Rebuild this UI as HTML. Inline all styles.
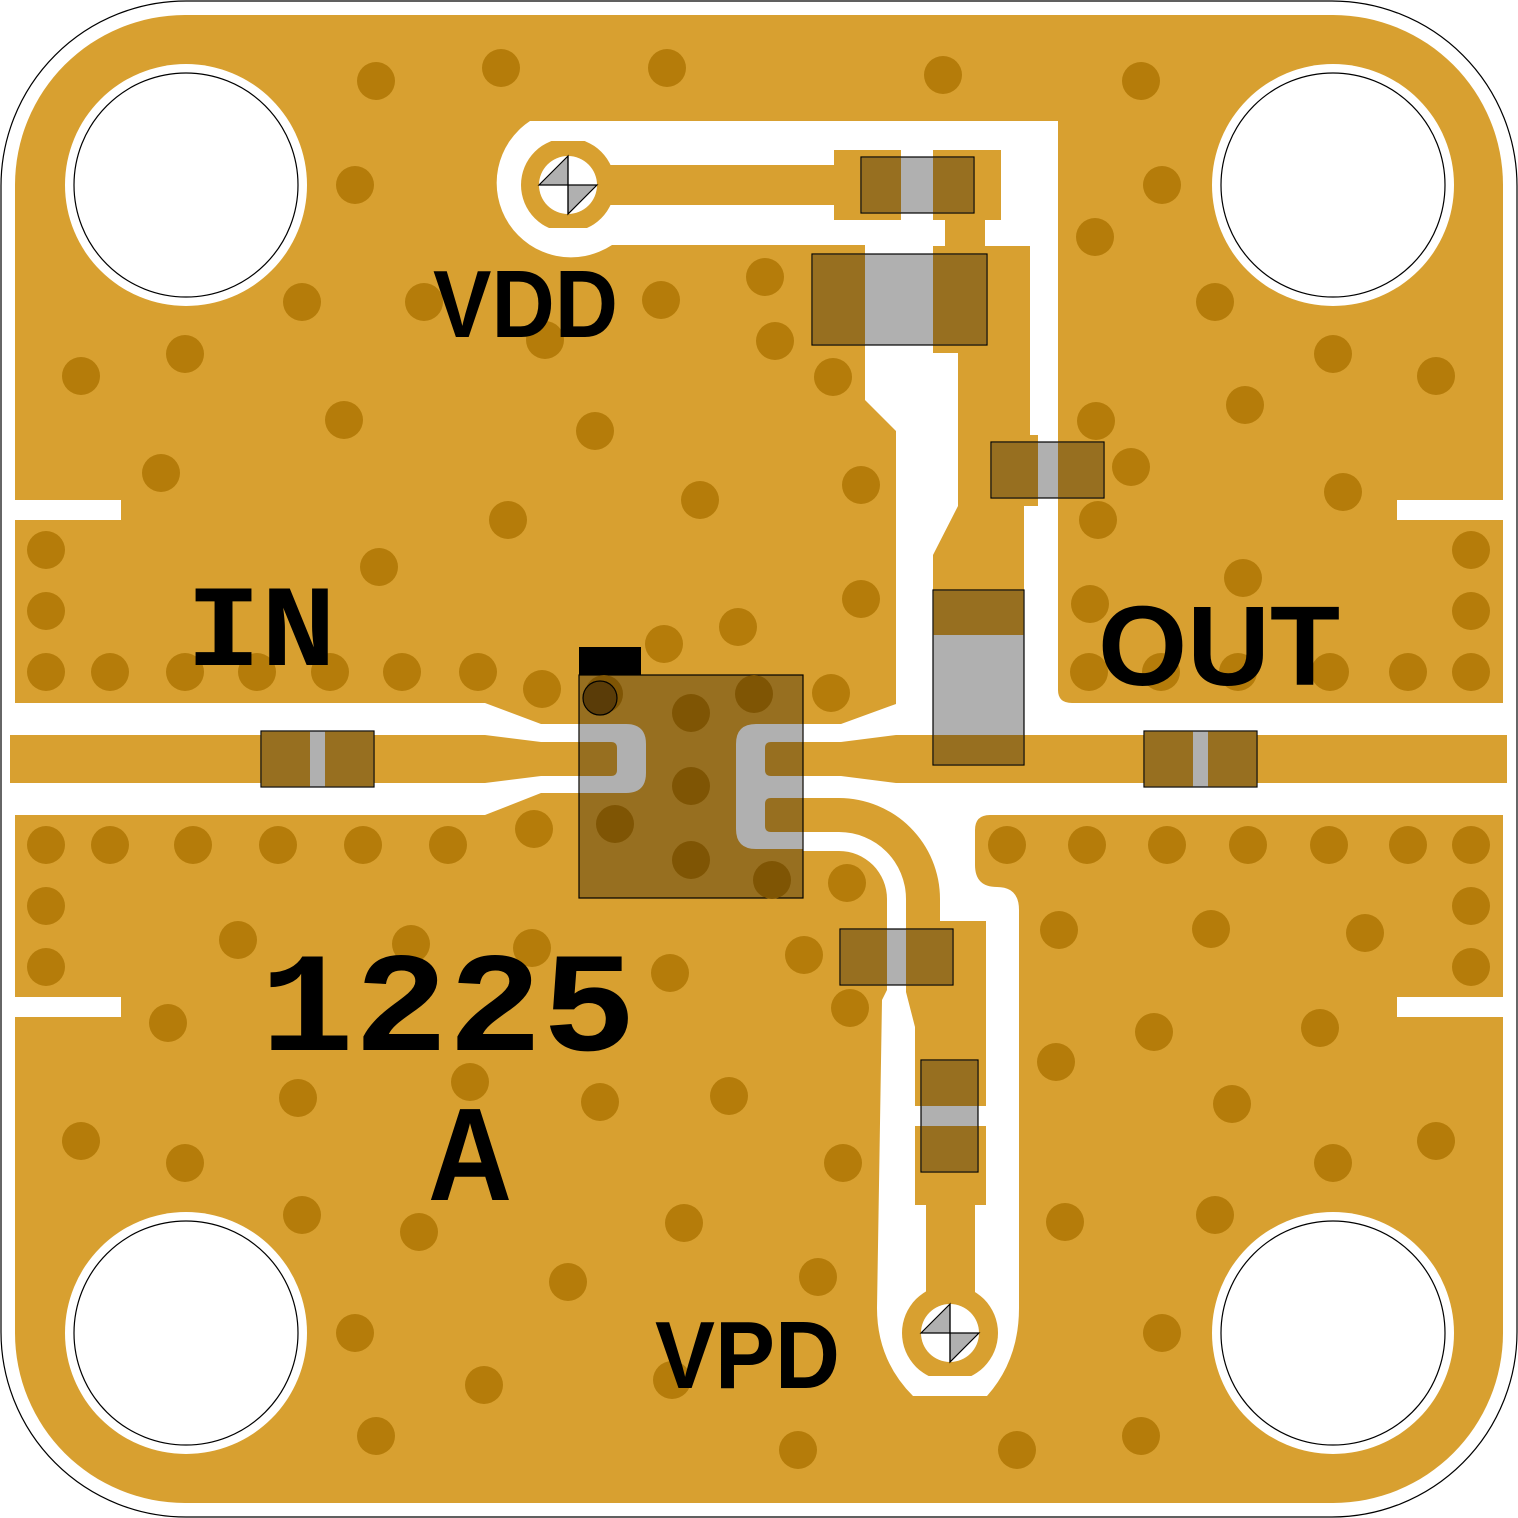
<!DOCTYPE html>
<html><head><meta charset="utf-8"><style>html,body{margin:0;padding:0;background:#fff}svg{display:block}</style></head>
<body>
<svg width="1518" height="1518" viewBox="0 0 1518 1518" xmlns="http://www.w3.org/2000/svg">
<defs>
<clipPath id="cv1"><rect x="500" y="141" width="140" height="87"/></clipPath>
<clipPath id="cv2"><rect x="890" y="1290" width="120" height="86"/></clipPath>
</defs>
<rect x="1" y="1" width="1516" height="1516" rx="185" fill="#fff" stroke="#000" stroke-width="1.2"/>
<rect x="15" y="15" width="1488" height="1488" rx="170" fill="#D8A030"/>

<!-- white gaps -->
<g fill="#fff">
<rect x="15" y="500" width="106" height="20"/>
<rect x="15" y="997" width="106" height="20"/>
<rect x="1397" y="500" width="106" height="20"/>
<rect x="1397" y="997" width="106" height="20"/>
<polygon points="15,703 485,703 541,724 590,724 590,793 541,793 485,815 15,815"/>
<path d="M530,121 H1058 V690 Q1058,703 1072,703 H1503 V815 H990 Q975,815 975,830 V865 Q975,887 997,887 Q1019,887 1019,910 V1308 Q1019,1360 987,1396 H913 Q877,1360 877,1308 L882,1000 L887,990 V899 A48,48 0 0 0 839,851 H795 V724 H841 L896,704 V431 L865,400 V245 H612 A74,74 0 1 1 530,121 Z"/>
</g>

<!-- gold traces -->
<g fill="#D8A030">
<polygon points="10,735 485,735 541,742 590,742 590,776 541,776 485,783 10,783"/>
<polygon points="795,742 841,742 896,735 1507,735 1507,783 896,783 841,776 795,776"/>
<rect x="600" y="165" width="236" height="40"/>
<rect x="834" y="150" width="67" height="70"/>
<rect x="933" y="150" width="68" height="70"/>
<rect x="945" y="219" width="40" height="28"/>
<polygon points="933,246 1030,246 1030,435 1038,435 1038,506 1024,506 1024,740 933,740 933,555 958,506 958,353 933,353"/>
<path d="M795,798 H839 A101,101 0 0 1 940,899 V921 H986 V1205 H975 V1300 H926 V1205 H915 V1027 L906,992 V899 A67,67 0 0 0 839,832 H795 Z"/>
<circle cx="568" cy="185" r="47" clip-path="url(#cv1)"/>
<circle cx="950" cy="1333" r="48" clip-path="url(#cv2)"/>
</g>
<rect x="915" y="1106" width="71" height="20" fill="#fff"/>

<!-- via holes -->
<g stroke="#000" stroke-width="1.2">
<circle cx="568" cy="185" r="29" fill="#fff" stroke="none"/>
<polygon points="568,156 539,185 568,185" fill="#B0B0B0"/>
<polygon points="568,185 597,185 568,214" fill="#B0B0B0"/>
<line x1="568" y1="156" x2="568" y2="214"/>
<circle cx="950" cy="1333" r="29" fill="#fff" stroke="none"/>
<polygon points="950,1304 921,1333 950,1333" fill="#B0B0B0"/>
<polygon points="950,1333 979,1333 950,1362" fill="#B0B0B0"/>
<line x1="950" y1="1304" x2="950" y2="1362"/>
</g>

<!-- mounting holes -->
<g fill="#fff">
<circle cx="186" cy="185" r="121"/><circle cx="1333" cy="185" r="121"/>
<circle cx="186" cy="1333" r="121"/><circle cx="1333" cy="1333" r="121"/>
</g>
<g fill="#fff" stroke="#000" stroke-width="1.2">
<circle cx="186" cy="185" r="112"/><circle cx="1333" cy="185" r="112"/>
<circle cx="186" cy="1333" r="112"/><circle cx="1333" cy="1333" r="112"/>
</g>

<!-- vias -->
<g fill="#B57C0A">
<circle cx="376" cy="81" r="19"/><circle cx="501" cy="68" r="19"/><circle cx="667" cy="68" r="19"/><circle cx="943" cy="75" r="19"/><circle cx="1141" cy="81" r="19"/>
<circle cx="355" cy="185" r="19"/><circle cx="1162" cy="185" r="19"/><circle cx="1095" cy="237" r="19"/>
<circle cx="302" cy="302" r="19"/><circle cx="424" cy="302" r="19"/><circle cx="661" cy="300" r="19"/><circle cx="765" cy="277" r="19"/><circle cx="1215" cy="302" r="19"/>
<circle cx="545" cy="340" r="19"/><circle cx="775" cy="341" r="19"/><circle cx="185" cy="354" r="19"/><circle cx="1333" cy="354" r="19"/>
<circle cx="81" cy="376" r="19"/><circle cx="1436" cy="376" r="19"/><circle cx="833" cy="377" r="19"/>
<circle cx="344" cy="420" r="19"/><circle cx="595" cy="431" r="19"/><circle cx="1096" cy="421" r="19"/><circle cx="1245" cy="405" r="19"/>
<circle cx="161" cy="473" r="19"/><circle cx="861" cy="485" r="19"/><circle cx="700" cy="500" r="19"/><circle cx="1131" cy="467" r="19"/>
<circle cx="508" cy="520" r="19"/><circle cx="1343" cy="492" r="19"/><circle cx="1098" cy="520" r="19"/>
<circle cx="46" cy="550" r="19"/><circle cx="1471" cy="550" r="19"/><circle cx="379" cy="567" r="19"/><circle cx="861" cy="599" r="19"/>
<circle cx="1243" cy="578" r="19"/><circle cx="1090" cy="604" r="19"/><circle cx="46" cy="611" r="19"/><circle cx="1471" cy="611" r="19"/>
<circle cx="738" cy="627" r="19"/><circle cx="664" cy="644" r="19"/>
<circle cx="46" cy="672" r="19"/><circle cx="110" cy="672" r="19"/><circle cx="185" cy="672" r="19"/><circle cx="257" cy="672" r="19"/><circle cx="330" cy="672" r="19"/><circle cx="402" cy="672" r="19"/><circle cx="478" cy="672" r="19"/><circle cx="542" cy="689" r="19"/><circle cx="831" cy="693" r="19"/>
<circle cx="1089" cy="672" r="19"/><circle cx="1161" cy="672" r="19"/><circle cx="1238" cy="672" r="19"/><circle cx="1330" cy="672" r="19"/><circle cx="1408" cy="672" r="19"/><circle cx="1471" cy="672" r="19"/>
<circle cx="46" cy="845" r="19"/><circle cx="110" cy="845" r="19"/><circle cx="193" cy="845" r="19"/><circle cx="278" cy="845" r="19"/><circle cx="363" cy="845" r="19"/><circle cx="448" cy="845" r="19"/><circle cx="534" cy="829" r="19"/>
<circle cx="1007" cy="845" r="19"/><circle cx="1087" cy="845" r="19"/><circle cx="1167" cy="845" r="19"/><circle cx="1248" cy="845" r="19"/><circle cx="1329" cy="845" r="19"/><circle cx="1408" cy="845" r="19"/><circle cx="1471" cy="845" r="19"/>
<circle cx="46" cy="906" r="19"/><circle cx="1471" cy="906" r="19"/><circle cx="847" cy="883" r="19"/><circle cx="1059" cy="930" r="19"/><circle cx="1211" cy="929" r="19"/><circle cx="1365" cy="933" r="19"/>
<circle cx="238" cy="940" r="19"/><circle cx="411" cy="944" r="19"/><circle cx="532" cy="948" r="19"/><circle cx="804" cy="955" r="19"/><circle cx="670" cy="973" r="19"/>
<circle cx="46" cy="967" r="19"/><circle cx="1471" cy="967" r="19"/><circle cx="850" cy="1008" r="19"/><circle cx="168" cy="1023" r="19"/><circle cx="1154" cy="1032" r="19"/><circle cx="1320" cy="1028" r="19"/>
<circle cx="1056" cy="1062" r="19"/><circle cx="470" cy="1082" r="19"/><circle cx="298" cy="1098" r="19"/><circle cx="600" cy="1102" r="19"/><circle cx="729" cy="1096" r="19"/><circle cx="1232" cy="1104" r="19"/>
<circle cx="81" cy="1141" r="19"/><circle cx="1436" cy="1141" r="19"/><circle cx="185" cy="1163" r="19"/><circle cx="843" cy="1163" r="19"/><circle cx="1333" cy="1163" r="19"/>
<circle cx="302" cy="1215" r="19"/><circle cx="684" cy="1223" r="19"/><circle cx="1215" cy="1215" r="19"/><circle cx="1065" cy="1222" r="19"/><circle cx="419" cy="1232" r="19"/>
<circle cx="568" cy="1282" r="19"/><circle cx="818" cy="1277" r="19"/><circle cx="355" cy="1333" r="19"/><circle cx="1162" cy="1333" r="19"/>
<circle cx="484" cy="1385" r="19"/><circle cx="672" cy="1380" r="19"/><circle cx="376" cy="1436" r="19"/><circle cx="798" cy="1450" r="19"/><circle cx="1017" cy="1450" r="19"/><circle cx="1141" cy="1436" r="19"/>
</g>

<!-- components -->
<g stroke="#000" stroke-width="1.2">
<rect x="861" y="157" width="113" height="56" fill="#B0B0B0"/>
<rect x="812" y="254" width="175" height="91" fill="#B0B0B0"/>
<rect x="991" y="442" width="113" height="56" fill="#B0B0B0"/>
<rect x="933" y="590" width="91" height="175" fill="#B0B0B0"/>
<rect x="261" y="731" width="113" height="56" fill="#B0B0B0"/>
<rect x="1144" y="731" width="113" height="56" fill="#B0B0B0"/>
<rect x="840" y="929" width="113" height="56" fill="#B0B0B0"/>
<rect x="921" y="1060" width="57" height="112" fill="#B0B0B0"/>
</g>
<g fill="#976F20">
<rect x="861.6" y="157.6" width="39.4" height="54.8"/><rect x="933" y="157.6" width="40.4" height="54.8"/>
<rect x="812.6" y="254.6" width="52.4" height="89.8"/><rect x="933" y="254.6" width="53.4" height="89.8"/>
<rect x="991.6" y="442.6" width="46.4" height="54.8"/><rect x="1058" y="442.6" width="45.4" height="54.8"/>
<rect x="933.6" y="590.6" width="89.8" height="44.4"/><rect x="933.6" y="735" width="89.8" height="29.4"/>
<rect x="261.6" y="731.6" width="48.4" height="54.8"/><rect x="325" y="731.6" width="48.4" height="54.8"/>
<rect x="1144.6" y="731.6" width="48.4" height="54.8"/><rect x="1208" y="731.6" width="48.4" height="54.8"/>
<rect x="840.6" y="929.6" width="46.4" height="54.8"/><rect x="906" y="929.6" width="46.4" height="54.8"/>
<rect x="921.6" y="1060.6" width="55.8" height="45.4"/><rect x="921.6" y="1126" width="55.8" height="45.4"/>
</g>

<!-- chip -->
<rect x="579" y="647" width="62" height="28" fill="#000"/>
<rect x="579" y="675" width="224" height="223" fill="#976F20" stroke="#000" stroke-width="1.2"/>
<path d="M579.6,724 H626 Q646,724 646,744 V773 Q646,793 626,793 H579.6 V776 H611 Q617,776 617,770 V748 Q617,742 611,742 H579.6 Z" fill="#B0B0B0"/>
<path d="M802.4,724 H756 Q736,724 736,744 V829 Q736,849 756,849 H802.4 V832 H771 Q765,832 765,826 V804 Q765,798 771,798 H802.4 V776 H771 Q765,776 765,770 V748 Q765,742 771,742 H802.4 Z" fill="#B0B0B0"/>
<g fill="#7F5504">
<circle cx="604" cy="694" r="19"/><circle cx="691" cy="713" r="19"/><circle cx="754" cy="694" r="19"/>
<circle cx="691" cy="786" r="19"/><circle cx="615" cy="824" r="19"/><circle cx="691" cy="860" r="19"/><circle cx="772" cy="880" r="19"/>
</g>
<circle cx="600" cy="698" r="17" fill="#5A3C08" stroke="#000" stroke-width="1.2"/>

<!-- labels -->
<g fill="#000" font-weight="bold">
<text x="433" y="337" font-family="Liberation Sans, sans-serif" font-size="96" textLength="185" lengthAdjust="spacingAndGlyphs">VDD</text>
<text x="186" y="665" font-family="Liberation Mono, monospace" font-size="116" textLength="150" lengthAdjust="spacingAndGlyphs">IN</text>
<text x="1098" y="685" font-family="Liberation Sans, sans-serif" font-size="113" textLength="242" lengthAdjust="spacingAndGlyphs">OUT</text>
<text x="260" y="1050" font-family="Liberation Mono, monospace" font-size="142" textLength="376" lengthAdjust="spacingAndGlyphs">1225</text>
<text x="428" y="1200" font-family="Liberation Sans, sans-serif" font-size="132" textLength="84" lengthAdjust="spacingAndGlyphs">A</text>
<text x="655" y="1388" font-family="Liberation Sans, sans-serif" font-size="96" textLength="185" lengthAdjust="spacingAndGlyphs">VPD</text>
</g>
</svg>
</body></html>
